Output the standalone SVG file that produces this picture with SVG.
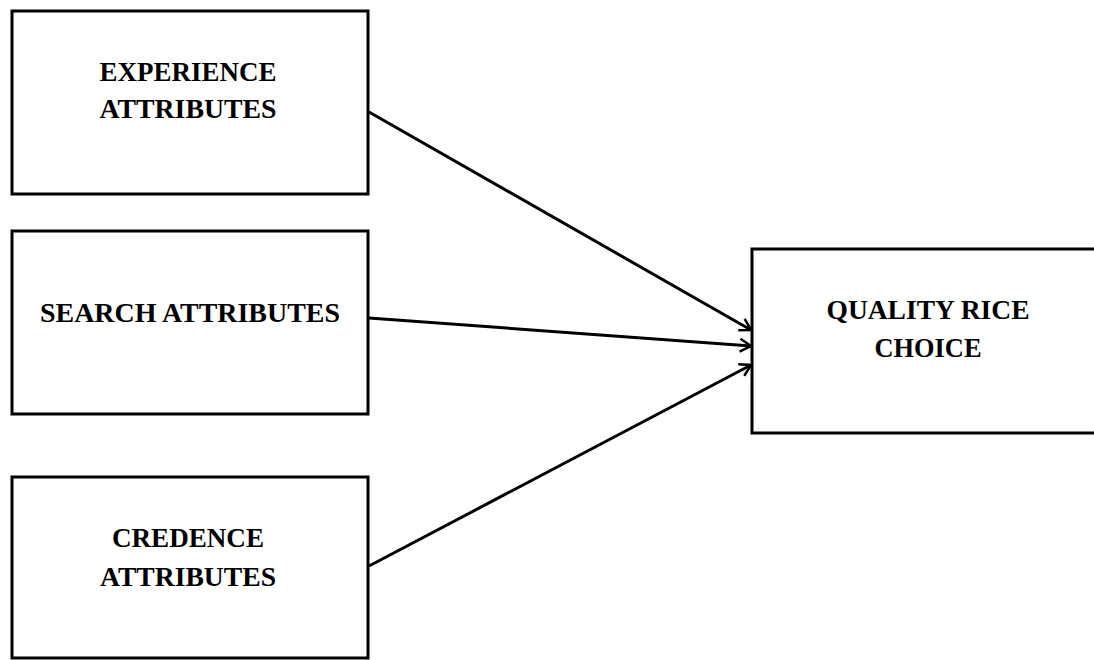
<svg xmlns="http://www.w3.org/2000/svg" width="1094" height="660" viewBox="0 0 1094 660">
<style>
.box{fill:#fff;stroke:#000;stroke-width:3}
.lbl{font-family:"Liberation Serif","Times New Roman",serif;font-weight:bold;font-size:28px;text-anchor:middle;fill:#000}
.con{stroke:#000;stroke-width:3;fill:none}
</style>
<defs>
<marker id="arr" markerWidth="16" markerHeight="16" refX="12" refY="8" orient="auto" markerUnits="userSpaceOnUse">
<path d="M1,1.5 L12,8 L1,14.5" fill="none" stroke="#000" stroke-width="2.5"/>
</marker>
</defs>
<rect width="1094" height="660" fill="#fff"/>
<g id="experience">
<rect class="box" x="12" y="11" width="356" height="183"/>
<text class="lbl" x="188" y="81" textLength="177" lengthAdjust="spacingAndGlyphs">EXPERIENCE</text>
<text class="lbl" x="188" y="118" textLength="177" lengthAdjust="spacingAndGlyphs">ATTRIBUTES</text>
</g>
<g id="search">
<rect class="box" x="12" y="231" width="356" height="183"/>
<text class="lbl" x="190" y="322" textLength="300" lengthAdjust="spacingAndGlyphs">SEARCH ATTRIBUTES</text>
</g>
<g id="credence">
<rect class="box" x="12" y="477" width="356" height="181"/>
<text class="lbl" x="188" y="547" textLength="152" lengthAdjust="spacingAndGlyphs">CREDENCE</text>
<text class="lbl" x="188" y="586" textLength="176" lengthAdjust="spacingAndGlyphs">ATTRIBUTES</text>
</g>
<g id="quality">
<rect class="box" x="752" y="249" width="345" height="184"/>
<text class="lbl" x="928" y="319" textLength="203" lengthAdjust="spacingAndGlyphs">QUALITY RICE</text>
<text class="lbl" x="928" y="357" textLength="107" lengthAdjust="spacingAndGlyphs">CHOICE</text>
</g>
<g id="connectors">
<line class="con" x1="369" y1="112" x2="751" y2="330" marker-end="url(#arr)"/>
<line class="con" x1="369" y1="318" x2="751" y2="346" marker-end="url(#arr)"/>
<line class="con" x1="369" y1="566" x2="751" y2="365" marker-end="url(#arr)"/>
</g>
</svg>
